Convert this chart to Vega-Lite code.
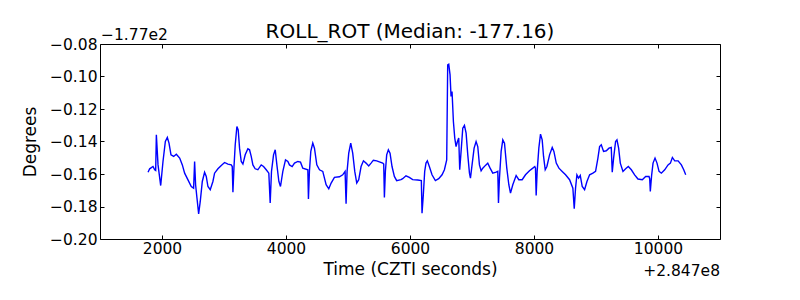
{
  "$schema": "https://vega.github.io/schema/vega-lite/v6.json",
  "width": 620,
  "height": 195,
  "autosize": "none",
  "padding": {"left": 100, "top": 44, "right": 80, "bottom": 61},
  "title": {"text": "ROLL_ROT (Median: -177.16)", "font": "DejaVu Sans", "fontSize": 20, "fontWeight": "normal", "color": "black", "offset": -14},
  "config": {
    "font": "DejaVu Sans",
    "view": {"stroke": "black", "strokeWidth": 1},
    "axis": {"labelFont": "DejaVu Sans", "labelFontSize": 15.5, "labelColor": "black", "titleFont": "DejaVu Sans", "titleFontSize": 17, "titleFontWeight": "normal", "titleColor": "black", "tickColor": "black", "tickWidth": 1, "domain": false, "grid": false}
  },
  "resolve": {"axis": {"x": "independent", "y": "independent"}},
  "layer": [
    {
      "data": {"values": [
        {"t":284701775,"roll":-177.1589},{"t":284701801,"roll":-177.1568},{"t":284701855,"roll":-177.1554},{"t":284701882,"roll":-177.1574},{"t":284701898,"roll":-177.1578},{"t":284701909,"roll":-177.1359},{"t":284701936,"roll":-177.1544},{"t":284701979,"roll":-177.1671},{"t":284702016,"roll":-177.1523},{"t":284702054,"roll":-177.1400},{"t":284702086,"roll":-177.1375},{"t":284702113,"roll":-177.1410},{"t":284702145,"roll":-177.1482},{"t":284702188,"roll":-177.1492},{"t":284702231,"roll":-177.1478},{"t":284702285,"roll":-177.1502},{"t":284702328,"roll":-177.1544},{"t":284702365,"roll":-177.1595},{"t":284702419,"roll":-177.1636},{"t":284702472,"roll":-177.1677},{"t":284702510,"roll":-177.1687},{"t":284702526,"roll":-177.1523},{"t":284702542,"roll":-177.1666},{"t":284702564,"roll":-177.1748},{"t":284702591,"roll":-177.1845},{"t":284702617,"roll":-177.1769},{"t":284702650,"roll":-177.1646},{"t":284702687,"roll":-177.1589},{"t":284702714,"roll":-177.1615},{"t":284702741,"roll":-177.1677},{"t":284702778,"roll":-177.1697},{"t":284702821,"roll":-177.1646},{"t":284702848,"roll":-177.1595},{"t":284702902,"roll":-177.1568},{"t":284702956,"roll":-177.1547},{"t":284703009,"roll":-177.1529},{"t":284703063,"roll":-177.1539},{"t":284703117,"roll":-177.1544},{"t":284703133,"roll":-177.1554},{"t":284703144,"roll":-177.1712},{"t":284703160,"roll":-177.1564},{"t":284703181,"roll":-177.1420},{"t":284703208,"roll":-177.1308},{"t":284703229,"roll":-177.1329},{"t":284703251,"roll":-177.1441},{"t":284703278,"roll":-177.1523},{"t":284703305,"roll":-177.1539},{"t":284703342,"roll":-177.1482},{"t":284703385,"roll":-177.1445},{"t":284703412,"roll":-177.1451},{"t":284703439,"roll":-177.1492},{"t":284703466,"roll":-177.1544},{"t":284703503,"roll":-177.1568},{"t":284703546,"roll":-177.1574},{"t":284703600,"roll":-177.1544},{"t":284703638,"roll":-177.1554},{"t":284703681,"roll":-177.1574},{"t":284703723,"roll":-177.1595},{"t":284703745,"roll":-177.1779},{"t":284703766,"roll":-177.1584},{"t":284703799,"roll":-177.1482},{"t":284703826,"roll":-177.1451},{"t":284703853,"roll":-177.1544},{"t":284703885,"roll":-177.1646},{"t":284703911,"roll":-177.1677},{"t":284703949,"roll":-177.1584},{"t":284703992,"roll":-177.1513},{"t":284704030,"roll":-177.1523},{"t":284704056,"roll":-177.1544},{"t":284704099,"roll":-177.1554},{"t":284704137,"roll":-177.1533},{"t":284704191,"roll":-177.1523},{"t":284704234,"roll":-177.1527},{"t":284704271,"roll":-177.1564},{"t":284704352,"roll":-177.1574},{"t":284704362,"roll":-177.1754},{"t":284704378,"roll":-177.1584},{"t":284704400,"roll":-177.1461},{"t":284704432,"roll":-177.1410},{"t":284704459,"roll":-177.1441},{"t":284704497,"roll":-177.1544},{"t":284704540,"roll":-177.1574},{"t":284704593,"roll":-177.1584},{"t":284704647,"roll":-177.1666},{"t":284704690,"roll":-177.1691},{"t":284704728,"roll":-177.1656},{"t":284704781,"roll":-177.1621},{"t":284704862,"roll":-177.1617},{"t":284704915,"roll":-177.1605},{"t":284704953,"roll":-177.1584},{"t":284704969,"roll":-177.1783},{"t":284704985,"roll":-177.1584},{"t":284705012,"roll":-177.1472},{"t":284705044,"roll":-177.1410},{"t":284705076,"roll":-177.1472},{"t":284705109,"roll":-177.1584},{"t":284705141,"roll":-177.1656},{"t":284705173,"roll":-177.1635},{"t":284705211,"roll":-177.1554},{"t":284705249,"roll":-177.1519},{"t":284705291,"roll":-177.1533},{"t":284705334,"roll":-177.1550},{"t":284705372,"roll":-177.1533},{"t":284705409,"roll":-177.1515},{"t":284705463,"roll":-177.1519},{"t":284705517,"roll":-177.1527},{"t":284705560,"roll":-177.1533},{"t":284705576,"roll":-177.1539},{"t":284705587,"roll":-177.1744},{"t":284705603,"roll":-177.1584},{"t":284705624,"roll":-177.1482},{"t":284705651,"roll":-177.1451},{"t":284705678,"roll":-177.1472},{"t":284705710,"roll":-177.1554},{"t":284705748,"roll":-177.1615},{"t":284705785,"roll":-177.1641},{"t":284705855,"roll":-177.1635},{"t":284705882,"roll":-177.1629},{"t":284705935,"roll":-177.1611},{"t":284705989,"roll":-177.1621},{"t":284706043,"roll":-177.1635},{"t":284706124,"roll":-177.1637},{"t":284706183,"roll":-177.1641},{"t":284706194,"roll":-177.1841},{"t":284706215,"roll":-177.1728},{"t":284706237,"roll":-177.1584},{"t":284706258,"roll":-177.1533},{"t":284706280,"roll":-177.1519},{"t":284706312,"roll":-177.1554},{"t":284706355,"roll":-177.1605},{"t":284706409,"roll":-177.1641},{"t":284706463,"roll":-177.1629},{"t":284706517,"roll":-177.1605},{"t":284706555,"roll":-177.1574},{"t":284706592,"roll":-177.1513},{"t":284706608,"roll":-177.0928},{"t":284706625,"roll":-177.0924},{"t":284706646,"roll":-177.0990},{"t":284706662,"roll":-177.1123},{"t":284706678,"roll":-177.1092},{"t":284706700,"roll":-177.1277},{"t":284706722,"roll":-177.1379},{"t":284706743,"roll":-177.1431},{"t":284706765,"roll":-177.1400},{"t":284706786,"roll":-177.1379},{"t":284706802,"roll":-177.1574},{"t":284706824,"roll":-177.1461},{"t":284706851,"roll":-177.1318},{"t":284706878,"roll":-177.1301},{"t":284706905,"roll":-177.1349},{"t":284706932,"roll":-177.1482},{"t":284706959,"roll":-177.1595},{"t":284706975,"roll":-177.1625},{"t":284707001,"roll":-177.1544},{"t":284707034,"roll":-177.1441},{"t":284707066,"roll":-177.1400},{"t":284707093,"roll":-177.1431},{"t":284707120,"roll":-177.1544},{"t":284707147,"roll":-177.1580},{"t":284707174,"roll":-177.1564},{"t":284707217,"roll":-177.1547},{"t":284707254,"roll":-177.1533},{"t":284707292,"roll":-177.1564},{"t":284707335,"roll":-177.1595},{"t":284707389,"roll":-177.1589},{"t":284707416,"roll":-177.1584},{"t":284707427,"roll":-177.1779},{"t":284707443,"roll":-177.1625},{"t":284707470,"roll":-177.1461},{"t":284707497,"roll":-177.1390},{"t":284707524,"roll":-177.1410},{"t":284707561,"roll":-177.1564},{"t":284707594,"roll":-177.1666},{"t":284707621,"roll":-177.1718},{"t":284707658,"roll":-177.1666},{"t":284707712,"roll":-177.1609},{"t":284707755,"roll":-177.1635},{"t":284707809,"roll":-177.1635},{"t":284707863,"roll":-177.1605},{"t":284707927,"roll":-177.1580},{"t":284707981,"roll":-177.1564},{"t":284708013,"roll":-177.1554},{"t":284708024,"roll":-177.1564},{"t":284708035,"roll":-177.1732},{"t":284708051,"roll":-177.1584},{"t":284708078,"roll":-177.1441},{"t":284708105,"roll":-177.1355},{"t":284708132,"roll":-177.1390},{"t":284708154,"roll":-177.1492},{"t":284708181,"roll":-177.1574},{"t":284708208,"roll":-177.1554},{"t":284708251,"roll":-177.1482},{"t":284708294,"roll":-177.1437},{"t":284708321,"roll":-177.1461},{"t":284708359,"roll":-177.1533},{"t":284708402,"roll":-177.1564},{"t":284708455,"roll":-177.1584},{"t":284708509,"roll":-177.1605},{"t":284708574,"roll":-177.1635},{"t":284708627,"roll":-177.1687},{"t":284708649,"roll":-177.1814},{"t":284708670,"roll":-177.1687},{"t":284708692,"roll":-177.1605},{"t":284708719,"roll":-177.1625},{"t":284708746,"roll":-177.1609},{"t":284708778,"roll":-177.1677},{"t":284708816,"roll":-177.1697},{"t":284708854,"roll":-177.1646},{"t":284708897,"roll":-177.1605},{"t":284708950,"roll":-177.1595},{"t":284708993,"roll":-177.1584},{"t":284709031,"roll":-177.1502},{"t":284709058,"roll":-177.1431},{"t":284709085,"roll":-177.1420},{"t":284709122,"roll":-177.1461},{"t":284709166,"roll":-177.1457},{"t":284709209,"roll":-177.1441},{"t":284709246,"roll":-177.1437},{"t":284709262,"roll":-177.1589},{"t":284709284,"roll":-177.1502},{"t":284709316,"roll":-177.1400},{"t":284709338,"roll":-177.1390},{"t":284709365,"roll":-177.1441},{"t":284709392,"roll":-177.1533},{"t":284709435,"roll":-177.1584},{"t":284709478,"roll":-177.1568},{"t":284709521,"roll":-177.1554},{"t":284709570,"roll":-177.1574},{"t":284709623,"roll":-177.1605},{"t":284709677,"roll":-177.1631},{"t":284709747,"roll":-177.1635},{"t":284709801,"roll":-177.1615},{"t":284709855,"roll":-177.1615},{"t":284709866,"roll":-177.1629},{"t":284709876,"roll":-177.1707},{"t":284709898,"roll":-177.1605},{"t":284709920,"roll":-177.1533},{"t":284709952,"roll":-177.1502},{"t":284709984,"roll":-177.1533},{"t":284710017,"roll":-177.1584},{"t":284710054,"roll":-177.1595},{"t":284710108,"roll":-177.1574},{"t":284710162,"roll":-177.1544},{"t":284710200,"roll":-177.1533},{"t":284710232,"roll":-177.1498},{"t":284710270,"roll":-177.1519},{"t":284710324,"roll":-177.1519},{"t":284710377,"roll":-177.1544},{"t":284710415,"roll":-177.1574},{"t":284710447,"roll":-177.1605}
      ]},
      "mark": {"type": "line", "color": "#0000ff", "strokeWidth": 1.4},
      "encoding": {
        "x": {"field": "t", "type": "quantitative", "scale": {"domain": [284701000, 284711000], "nice": false, "zero": false},
          "axis": {"orient": "bottom", "title": "Time (CZTI seconds)", "values": [284702000, 284704000, 284706000, 284708000, 284710000], "labelExpr": "format(datum.value - 284700000, 'd')", "tickSize": -4, "labelPadding": 6, "titlePadding": 5}},
        "y": {"field": "roll", "type": "quantitative", "scale": {"domain": [-177.2, -177.08], "nice": false, "zero": false},
          "axis": {"orient": "left", "title": "Degrees", "values": [-177.2, -177.18, -177.16, -177.14, -177.12, -177.1, -177.08], "labelExpr": "format(datum.value + 177, '.2f')", "tickSize": -4, "labelPadding": 7, "titlePadding": 10}}
      }
    },
    {
      "data": {"values": [{}]},
      "mark": {"type": "text", "align": "left", "baseline": "alphabetic", "dx": 1, "dy": -4, "font": "DejaVu Sans", "fontSize": 15.5, "color": "black"},
      "encoding": {
        "x": {"datum": 284701000, "type": "quantitative", "axis": {"orient": "top", "labels": false, "title": null, "tickSize": -4, "values": [284702000, 284704000, 284706000, 284708000, 284710000]}},
        "y": {"datum": -177.08, "type": "quantitative", "axis": {"orient": "right", "labels": false, "title": null, "tickSize": -4, "values": [-177.2, -177.18, -177.16, -177.14, -177.12, -177.1, -177.08]}},
        "text": {"value": "−1.77e2"}
      }
    },
    {
      "data": {"values": [{}]},
      "mark": {"type": "text", "align": "right", "baseline": "alphabetic", "dy": 37, "font": "DejaVu Sans", "fontSize": 15.5, "color": "black"},
      "encoding": {
        "x": {"datum": 284711000, "type": "quantitative", "axis": null},
        "y": {"datum": -177.2, "type": "quantitative", "axis": null},
        "text": {"value": "+2.847e8"}
      }
    }
  ]
}
